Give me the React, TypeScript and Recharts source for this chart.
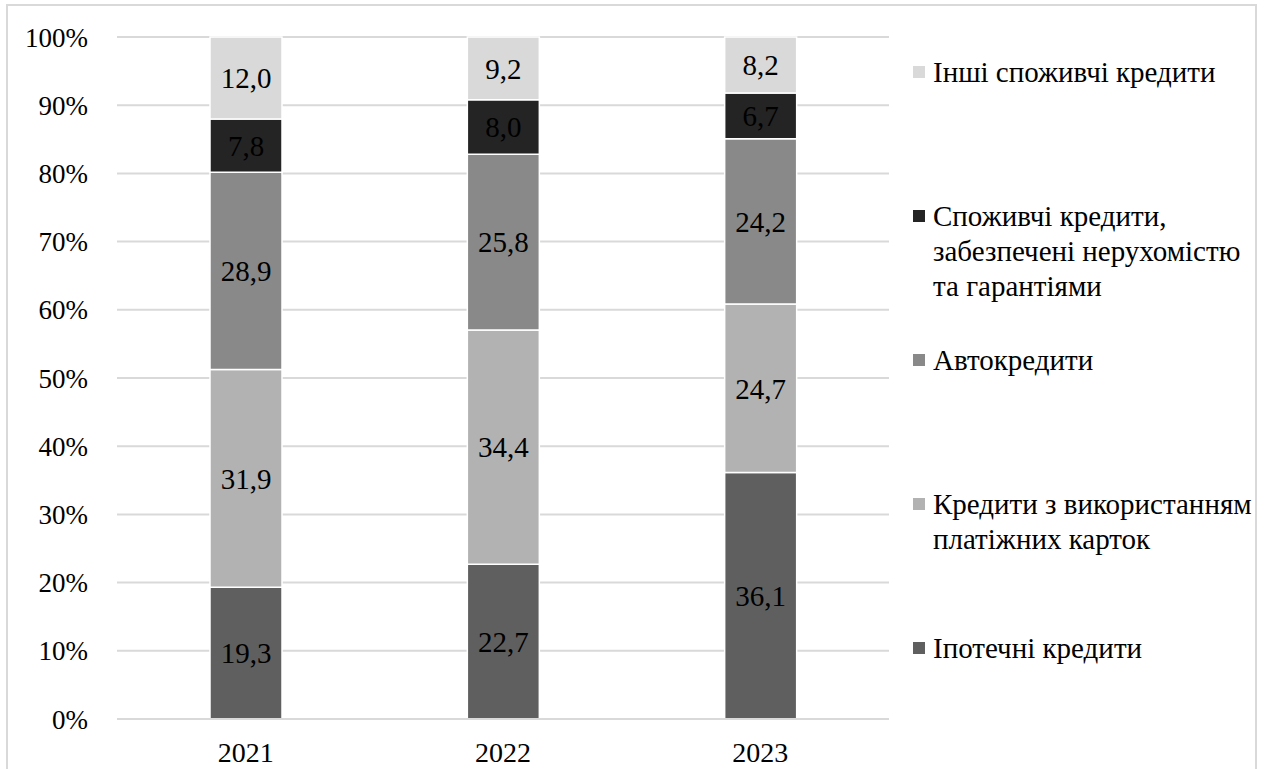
import React from "react";
import { BarChart, Bar, XAxis, YAxis, CartesianGrid, LabelList } from "recharts";

const years = ["2021", "2022", "2023"];
const mortgage = [19.3, 22.7, 36.1];
const cards = [31.9, 34.4, 24.7];
const auto = [28.9, 25.8, 24.2];
const secured = [7.8, 8.0, 6.7];
const other = [12.0, 9.2, 8.2];
const yTicks = [0, 0.1, 0.2, 0.3, 0.4, 0.5, 0.6, 0.7, 0.8, 0.9, 1];

const seriesNames = {
  mortgage: "Іпотечні кредити",
  cards: "Кредити з використанням платіжних карток",
  auto: "Автокредити",
  secured: "Споживчі кредити, забезпечені нерухомістю та гарантіями",
  other: "Інші споживчі кредити",
};

const colors = {
  mortgage: "#5f5f5f",
  cards: "#b2b2b2",
  auto: "#898989",
  secured: "#242424",
  other: "#d9d9d9",
};

const legendLines = [
  { key: "other", lines: ["Інші споживчі кредити"] },
  { key: "secured", lines: ["Споживчі кредити,", "забезпечені нерухомістю", "та гарантіями"] },
  { key: "auto", lines: ["Автокредити"] },
  { key: "cards", lines: ["Кредити з використанням", "платіжних карток"] },
  { key: "mortgage", lines: ["Іпотечні кредити"] },
];

const data = years.map((y, i) => ({
  year: y,
  mortgage: mortgage[i],
  cards: cards[i],
  auto: auto[i],
  secured: secured[i],
  other: other[i],
}));

const FONT = "Liberation Serif, DejaVu Serif, Noto Serif, Tinos, Times New Roman, serif";
const fmt = (v: any) => Number(v).toFixed(1).replace(".", ",");
const order = ["mortgage", "cards", "auto", "secured", "other"] as const;

export default function App() {
  return (
    <div style={{ position: "absolute", left: 0, top: 0, width: 1272, height: 769, overflow: "hidden", background: "#fff", fontFamily: FONT }}>
      <div
        style={{
          position: "absolute",
          left: 6,
          top: 4,
          width: 1251,
          height: 800,
          border: "2px solid #d9d9d9",
          boxSizing: "border-box",
        }}
      />
      <div style={{ position: "absolute", left: 0, top: 0 }}>
        <BarChart
          width={900}
          height={769}
          data={data}
          stackOffset="expand"
          margin={{ top: 37, right: 11, bottom: 0, left: 17 }}
        >
          <CartesianGrid vertical={false} stroke="#d9d9d9" strokeWidth={2} />
          <XAxis
            dataKey="year"
            height={50}
            axisLine={{ stroke: "#d9d9d9", strokeWidth: 2 }}
            tickLine={false}
            tickSize={0}
            tickMargin={23}
            tick={{ fill: "#000", fontFamily: FONT, fontSize: 28 }}
          />
          <YAxis
            width={100}
            domain={[0, 1]}
            ticks={yTicks}
            axisLine={false}
            tickLine={false}
            tickSize={0}
            tickMargin={29}
            tickFormatter={(v: number) => `${Math.round(v * 100)}%`}
            tick={{ fill: "#000", fontFamily: FONT, fontSize: 27 }}
          />
          {order.map((k) => (
            <Bar
              key={k}
              dataKey={k}
              name={seriesNames[k]}
              stackId="a"
              fill={colors[k]}
              stroke="#ffffff"
              strokeWidth={1.5}
              barSize={72}
              isAnimationActive={false}
            >
              <LabelList
                dataKey={k}
                position="center"
                formatter={fmt}
                style={{ fill: "#000", fontFamily: FONT, fontSize: 29 }}
              />
            </Bar>
          ))}
        </BarChart>
      </div>
      <div style={{ position: "absolute", left: 913, top: 55, fontFamily: FONT, fontSize: 29, color: "#000" }}>
        {legendLines.map((item) => (
          <div key={item.key} style={{ height: 144, position: "relative" }}>
            <div
              style={{
                position: "absolute",
                left: 0,
                top: 11,
                width: 12,
                height: 12,
                background: colors[item.key as keyof typeof colors],
              }}
            />
            <div style={{ position: "absolute", left: 20, top: 0, lineHeight: "35px", whiteSpace: "nowrap" }}>
              {item.lines.map((l, i) => (
                <div key={i}>{l}</div>
              ))}
            </div>
          </div>
        ))}
      </div>
    </div>
  );
}
